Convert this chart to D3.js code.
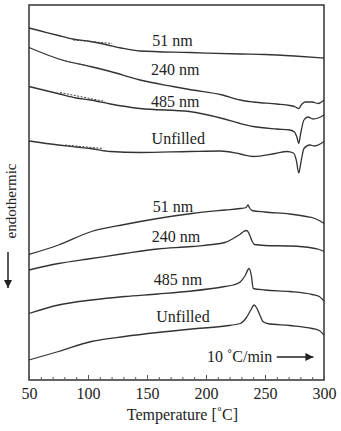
<!DOCTYPE html>
<html>
<head>
<meta charset="utf-8">
<script src="https://cdn.jsdelivr.net/npm/d3@7"></script>
<style>
  body { margin: 0; background: #fff; }
  text { font-family: "Liberation Serif", "Times New Roman", serif; fill: #222; }
</style>
</head>
<body>
<svg width="341" height="431"></svg>
<script>
// DSC traces, [temperature °C, heat flow (arb. units, endothermic down)]
let heat51 = [[50,70.4],[60,69.8],[75,68.9],[87,68.2],[102,67.7],[115,67.1],[128,66.4],[144,65.8],[186,65.5],[229,65.2],[250,65.1],[275,64.8],[300,64.4]];
let heat240 = [[50,66.5],[78,64],[102,62.7],[119,61.7],[144,60],[172,58.7],[186,58.1],[214,57],[229,56],[240,55.6],[260,55.2],[271,54.9],[276,54.6],[278.5,54.3],[281,55.1],[284,55.6],[290,55.6],[295,55.3],[300,56]];
let heat485 = [[50,58.7],[76,57.2],[90,56.4],[102,56],[119,55.2],[144,54.3],[186,53.7],[214,52.3],[229,51.3],[240,50.7],[260,50.2],[271,50],[275,49.6],[277,48.6],[278.6,47.3],[280,49],[283,52],[286.4,52.6],[290.7,52.2],[295,52.4],[300,53]];
let heatUnf = [[50,47.8],[75,47],[90,46.6],[102,46.3],[119,45.7],[144,45.5],[186,45.7],[212,45.8],[229,45.2],[240,44.7],[258.5,45.3],[268.6,45.7],[274,45.4],[276.5,44],[278.6,41.4],[280.5,43.6],[283,46.3],[288,47],[292,46.8],[300,47.7]];
let cool51 = [[50,25.1],[75,27],[103,29.7],[131,31.1],[159,32.3],[188,33.3],[216,34],[229,34.3],[234,34.5],[235.5,35],[237,34.4],[239,33.9],[250,33.6],[271,33.2],[285,32.7],[291,32.4],[296,31.9],[300,31.3]];
let cool240 = [[50,22],[75,23.3],[103,24.3],[131,25.3],[159,26.2],[188,26.7],[216,27.5],[223,28.3],[228,29],[232,29.7],[234.5,29.9],[237,29],[239,27.8],[241,27.1],[250,26.9],[271,26.8],[290,26.4],[296,26.1],[300,25.7]];
let cool485 = [[50,13.3],[75,15],[103,16],[131,16.7],[159,17.2],[188,17.8],[216,18.7],[223,19],[229,19.6],[233,20.8],[236.5,22.3],[238.5,20.8],[240,18.3],[250,18],[271,17.7],[290,17.1],[296,16.7],[300,15.8]];
let coolUnf = [[50,4],[75,5.7],[103,7.7],[131,8.7],[159,9.5],[188,10.2],[216,10.8],[229,11.3],[234,12.4],[238,14],[240.7,15],[243,14.4],[246,12.8],[248.3,11.7],[252,11.3],[271,10.9],[290,10.3],[296,9.9],[300,9]];

// baseline tangents on the heating traces
let tangents = [
  [[87.5,68],[120.5,67.3]],
  [[78,64],[109.5,62.3]],
  [[76.3,57.5],[114.4,55.7]],
  [[80.5,47],[112.7,46.3]]
];

let traces = [heat51, heat240, heat485, heatUnf, cool51, cool240, cool485, coolUnf];
let labels = ["51 nm", "240 nm", "485 nm", "Unfilled", "51 nm", "240 nm", "485 nm", "Unfilled"];
let labelAt = [[171.5,68],[174,62.2],[174,55.8],[176.5,48.4],[172,34.8],[174.6,28.7],[176.3,20.2],[180.5,12.8]];

let majorTicks = [50, 100, 150, 200, 250, 300];
let minorTicks = d3.range(50, 301, 10);

let svg = d3.select("svg"),
    margin = {top: 5, right: 17, bottom: 51, left: 29},
    width = +svg.attr("width") - margin.left - margin.right,
    height = +svg.attr("height") - margin.top - margin.bottom;

let x = d3.scaleLinear().domain([50, 300]).range([0, width]);
let y = d3.scaleLinear().domain([0, 75]).range([height, 0]);

let g = svg.append("g").attr("transform", "translate(" + margin.left + "," + margin.top + ")");

let line = d3.line()
    .x(function(d) { return x(d[0]); })
    .y(function(d) { return y(d[1]); })
    .curve(d3.curveMonotoneX);

g.selectAll(".trace").data(traces).enter().append("path")
    .attr("class", "trace")
    .attr("d", line)
    .attr("fill", "none")
    .attr("stroke", "#333")
    .attr("stroke-width", 1.3);

g.selectAll(".tangent").data(tangents).enter().append("path")
    .attr("class", "tangent")
    .attr("d", d3.line().x(function(d) { return x(d[0]); }).y(function(d) { return y(d[1]); }))
    .attr("fill", "none")
    .attr("stroke", "#444")
    .attr("stroke-width", 1)
    .attr("stroke-dasharray", "2,1.5");

g.selectAll(".lbl").data(labels).enter().append("text")
    .attr("class", "lbl")
    .attr("x", function(d, i) { return x(labelAt[i][0]); })
    .attr("y", function(d, i) { return y(labelAt[i][1]); })
    .attr("dy", "0.35em")
    .attr("text-anchor", "middle")
    .style("font-size", "16px")
    .text(function(d) { return d; });

// frame
g.append("rect")
    .attr("width", width).attr("height", height)
    .attr("fill", "none").attr("stroke", "#333").attr("stroke-width", 1.5);

// x axis: minor and major ticks pointing inward
g.append("g")
    .attr("transform", "translate(0," + height + ")")
    .call(d3.axisBottom(x).tickValues(minorTicks).tickSizeInner(-3).tickSizeOuter(0).tickFormat(""))
    .call(function(a) { a.select(".domain").remove(); a.selectAll("line").attr("stroke", "#555"); });

g.append("g")
    .attr("transform", "translate(0," + height + ")")
    .call(d3.axisBottom(x).tickValues(majorTicks).tickSizeInner(-5).tickSizeOuter(0).tickPadding(8))
    .call(function(a) {
      a.select(".domain").remove();
      a.selectAll("line").attr("stroke", "#555");
      a.selectAll("text").style("font-size", "16px").style("font-family", "Liberation Serif").attr("fill", "#222");
    });

g.append("text")
    .attr("x", x(180))
    .attr("y", height + 40)
    .attr("text-anchor", "middle")
    .style("font-size", "16px")
    .text("Temperature [˚C]");

// rate annotation
g.append("text")
    .attr("x", x(200.8))
    .attr("y", y(4.8))
    .attr("dy", "0.35em")
    .style("font-size", "16px")
    .text("10 ˚C/min");

svg.append("defs").append("marker")
    .attr("id", "ah")
    .attr("viewBox", "0 0 10 10")
    .attr("refX", 10).attr("refY", 5)
    .attr("markerWidth", 8).attr("markerHeight", 8)
    .attr("markerUnits", "userSpaceOnUse")
    .attr("orient", "auto")
    .append("path").attr("d", "M0,0L10,5L0,10z").attr("fill", "#222");

g.append("line")
    .attr("x1", x(260)).attr("x2", x(291))
    .attr("y1", y(4.6)).attr("y2", y(4.6))
    .attr("stroke", "#222").attr("stroke-width", 1.5)
    .attr("marker-end", "url(#ah)");

// endothermic direction
svg.append("text")
    .attr("transform", "translate(16,201) rotate(-90)")
    .attr("text-anchor", "middle")
    .style("font-size", "15px")
    .text("endothermic");

svg.append("line")
    .attr("x1", 8).attr("x2", 8)
    .attr("y1", 252).attr("y2", 288)
    .attr("stroke", "#222").attr("stroke-width", 1.5)
    .attr("marker-end", "url(#ah)");
</script>
</body>
</html>
